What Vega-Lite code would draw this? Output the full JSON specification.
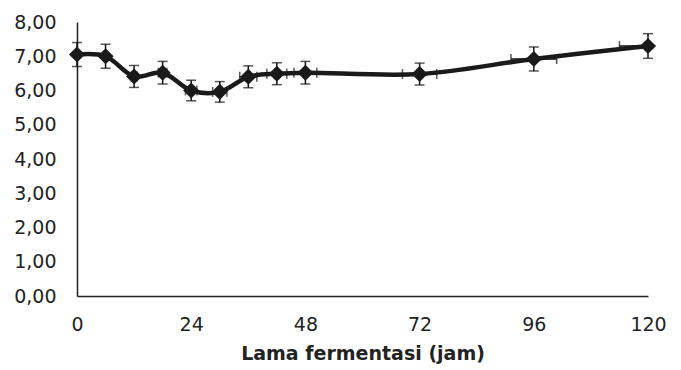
{
  "$schema": "https://vega.github.io/schema/vega-lite/v6.json",
  "autosize": "none",
  "width": 571,
  "height": 274,
  "padding": {"left": 77, "top": 22, "right": 33, "bottom": 74},
  "background": "white",
  "config": {"view": {"stroke": null}, "font": "DejaVu Sans"},
  "data": {"values": [
    {"jam": 0, "nilai": 7.05, "ylo": 6.70, "yhi": 7.40, "xlo": 0.0, "xhi": 0.0},
    {"jam": 6, "nilai": 7.00, "ylo": 6.65, "yhi": 7.35, "xlo": 5.7, "xhi": 6.3},
    {"jam": 12, "nilai": 6.41, "ylo": 6.09, "yhi": 6.73, "xlo": 11.4, "xhi": 12.6},
    {"jam": 18, "nilai": 6.52, "ylo": 6.19, "yhi": 6.85, "xlo": 17.1, "xhi": 18.9},
    {"jam": 24, "nilai": 6.00, "ylo": 5.70, "yhi": 6.30, "xlo": 22.8, "xhi": 25.2},
    {"jam": 30, "nilai": 5.96, "ylo": 5.66, "yhi": 6.26, "xlo": 28.5, "xhi": 31.5},
    {"jam": 36, "nilai": 6.40, "ylo": 6.08, "yhi": 6.72, "xlo": 34.2, "xhi": 37.8},
    {"jam": 42, "nilai": 6.49, "ylo": 6.17, "yhi": 6.81, "xlo": 39.9, "xhi": 44.1},
    {"jam": 48, "nilai": 6.52, "ylo": 6.19, "yhi": 6.85, "xlo": 45.6, "xhi": 50.4},
    {"jam": 72, "nilai": 6.48, "ylo": 6.16, "yhi": 6.80, "xlo": 68.4, "xhi": 75.6},
    {"jam": 96, "nilai": 6.92, "ylo": 6.57, "yhi": 7.27, "xlo": 91.2, "xhi": 100.8},
    {"jam": 120, "nilai": 7.30, "ylo": 6.94, "yhi": 7.66, "xlo": 114.0, "xhi": 126.0}
  ]},
  "encoding": {
    "x": {"field": "jam", "type": "quantitative",
      "scale": {"domain": [0, 120], "nice": false, "clamp": false},
      "axis": {"values": [0, 24, 48, 72, 96, 120], "grid": false, "ticks": false,
        "domainColor": "#222", "domainWidth": 1.5, "labelFontSize": 19, "labelColor": "#222",
        "labelPadding": 19, "labelFlush": false,
        "title": "Lama fermentasi (jam)", "titleFontSize": 19, "titleFontWeight": "bold",
        "titleColor": "#222", "titlePadding": 10}},
    "y": {"field": "nilai", "type": "quantitative",
      "scale": {"domain": [0, 8], "nice": false},
      "axis": {"values": [0, 1, 2, 3, 4, 5, 6, 7, 8], "grid": false, "ticks": false,
        "domainColor": "#222", "domainWidth": 1.5, "labelFontSize": 19, "labelColor": "#222",
        "labelPadding": 21, "labelFlush": false, "title": null,
        "labelExpr": "replace(format(datum.value, '.2f'), '.', ',')"}}
  },
  "layer": [
    {"mark": {"type": "rule", "color": "#111", "strokeWidth": 1.5},
      "encoding": {"y": {"field": "ylo", "type": "quantitative"}, "y2": {"field": "yhi"}}},
    {"mark": {"type": "tick", "orient": "horizontal", "color": "#111", "size": 10, "thickness": 1.5},
      "encoding": {"y": {"field": "ylo", "type": "quantitative"}}},
    {"mark": {"type": "tick", "orient": "horizontal", "color": "#111", "size": 10, "thickness": 1.5},
      "encoding": {"y": {"field": "yhi", "type": "quantitative"}}},
    {"mark": {"type": "rule", "color": "#111", "strokeWidth": 1.5, "clip": true},
      "encoding": {"x": {"field": "xlo", "type": "quantitative"}, "x2": {"field": "xhi"}}},
    {"mark": {"type": "tick", "orient": "vertical", "color": "#111", "size": 10, "thickness": 1.5},
      "encoding": {"x": {"field": "xlo", "type": "quantitative"}}},
    {"mark": {"type": "tick", "orient": "vertical", "color": "#111", "size": 10, "thickness": 1.5, "clip": true},
      "encoding": {"x": {"field": "xhi", "type": "quantitative"}}},
    {"mark": {"type": "line", "color": "#1a1a1a", "strokeWidth": 4.5, "interpolate": "catmull-rom"}},
    {"mark": {"type": "point", "shape": "diamond", "filled": true, "color": "#1a1a1a", "opacity": 1, "size": 260}}
  ]
}
